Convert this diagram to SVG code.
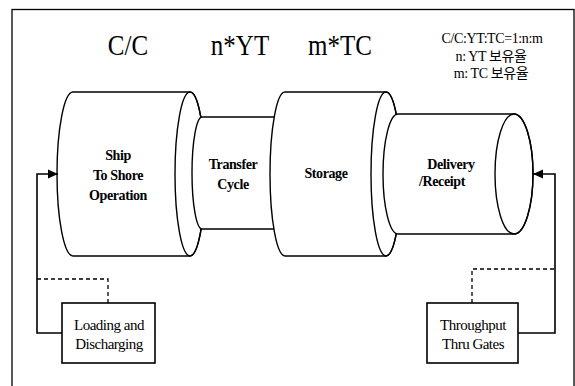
<svg xmlns="http://www.w3.org/2000/svg" width="575" height="386" viewBox="0 0 575 386">
<style>
.cyl{fill:#fff;stroke:#000;stroke-width:1.4}
.ell{fill:none;stroke:#000;stroke-width:1.4}
.box{fill:#fff;stroke:#000;stroke-width:1.6}
.conn{fill:none;stroke:#000;stroke-width:1.6}
.dash{fill:none;stroke:#000;stroke-width:1.3;stroke-dasharray:4 3}
text{font-family:Liberation Serif,Tinos,Times New Roman,DejaVu Serif,serif;text-anchor:middle}
.big{font-size:25px}
.lbl{font-size:14px;font-weight:bold;letter-spacing:-0.4px}
.reg{font-size:15px;letter-spacing:-0.5px}
.note{font-family:Liberation Serif,Tinos,Noto Sans CJK KR,serif;font-size:14px;letter-spacing:-0.4px}
</style>
<defs>
<marker id="arr" markerUnits="userSpaceOnUse" markerWidth="10" markerHeight="10" viewBox="0 0 10 10" refX="10" refY="5" orient="auto">
<path d="M0,0.5 L10,5 L0,9.5 Z" fill="#000"/>
</marker>
</defs>
<rect x="12" y="9.5" width="562" height="392" fill="#fff" stroke="#000" stroke-width="1.3"/>

<g id="header" font-family="Liberation Serif, serif">
<text class="big" font-family="Liberation Serif, serif" transform="translate(128,55) scale(1,1.2)">C/C</text>
<text class="big" font-family="Liberation Serif, serif" transform="translate(240,55) scale(1,1.2)">n*YT</text>
<text class="big" font-family="Liberation Serif, serif" transform="translate(340,55) scale(1,1.2)">m*TC</text>
</g>
<g id="note">
<text class="note" x="492" y="43">C/C:YT:TC=1:n:m</text>
<text class="note" x="491" y="61">n: YT 보유율</text>
<text class="note" x="491" y="78">m: TC 보유율</text>
</g>

<g id="ship-to-shore">
<path class="cyl" d="M73,92 L190,92 A15,82 0 0 1 190,256 L73,256 A16,82 0 0 1 73,92 Z"/>
<ellipse class="ell" cx="190" cy="174" rx="15" ry="82"/>
<text class="lbl" x="118" y="160">Ship</text>
<text class="lbl" x="118" y="180">To Shore</text>
<text class="lbl" x="118" y="200">Operation</text>
</g>
<g id="transfer-cycle">
<path class="cyl" d="M202,117 L280,117 A9,56 0 0 1 280,229 L202,229 A10,56 0 0 1 202,117 Z"/>
<text class="lbl" x="233" y="169">Transfer</text>
<text class="lbl" x="233" y="189">Cycle</text>
</g>
<g id="storage">
<path class="cyl" d="M285,92 L386,92 A15,82 0 0 1 386,256 L285,256 A15,82 0 0 1 285,92 Z"/>
<ellipse class="ell" cx="386" cy="174" rx="15" ry="82"/>
<text class="lbl" x="326" y="178">Storage</text>
</g>
<g id="delivery-receipt">
<path class="cyl" d="M398,114 L514,114 A19,60 0 0 1 514,234 L398,234 A15,60 0 0 1 398,114 Z"/>
<ellipse class="ell" cx="514" cy="174" rx="19" ry="60"/>
<text class="lbl" x="451" y="169">Delivery</text>
<text class="lbl" x="442" y="186">/Receipt</text>
</g>

<g id="loading-discharging">
<rect class="box" x="62" y="303" width="93" height="60"/>
<text class="reg" x="109" y="330">Loading and</text>
<text class="reg" x="109" y="349">Discharging</text>
</g>
<g id="throughput-gates">
<rect class="box" x="427" y="303" width="91" height="60"/>
<text class="reg" x="473" y="330">Throughput</text>
<text class="reg" x="473" y="349">Thru Gates</text>
</g>

<g id="connectors">
<path class="conn" d="M62,333 H37 V174 H58" marker-end="url(#arr)"/>
<path class="dash" d="M37,279 H108 V303"/>
<path class="conn" d="M518,333 H555 V174 H533" marker-end="url(#arr)"/>
<path class="dash" d="M472,303 V269 H555"/>
</g>
</svg>
